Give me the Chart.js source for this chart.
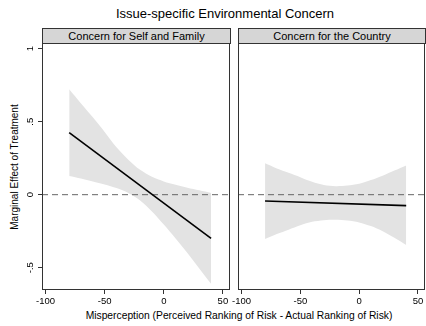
<!DOCTYPE html>
<html>
<head>
<meta charset="utf-8">
<script src="https://cdn.jsdelivr.net/npm/chart.js@4.4.1/dist/chart.umd.min.js"></script>
<style>
  body { margin: 0; background: #fff; }
  #wrap { position: relative; width: 426px; height: 326px; font-family: "Liberation Sans", Arial, sans-serif; color: #000; }
  .txt { position: absolute; white-space: nowrap; }
  .head { position: absolute; top: 28px; height: 14px; background: #d6d6d6; border: 1px solid #333;
          font-size: 11px; line-height: 14px; text-align: center; box-sizing: content-box; }
  canvas { position: absolute; }
</style>
</head>
<body>
<div id="wrap">
  <div class="txt" style="left:0; width:450px; top:6px; font-size:13px; text-align:center;">Issue-specific Environmental Concern</div>
  <div class="head" style="left:42px; width:187px;">Concern for Self and Family</div>
  <div class="head" style="left:238px; width:186px;">Concern for the Country</div>
  <div class="txt" style="left:14px; top:167px; font-size:10px; transform:translate(-50%,-50%) rotate(-90deg);">Marginal Effect of Treatment</div>
  <div class="txt" style="left:0; width:478px; top:310px; font-size:10.3px; text-align:center;">Misperception (Perceived Ranking of Risk - Actual Ranking of Risk)</div>
  <div style="position:absolute; left:0; top:43px; width:232px; height:267px;"><canvas id="left"></canvas></div>
  <div style="position:absolute; left:232px; top:43px; width:194px; height:267px;"><canvas id="right"></canvas></div>
</div>
<script>
// values
const xGrid = [-80, -70, -60, -50, -40, -30, -20, -10, 0, 10, 20, 30, 40];

// left panel: concern for self and family
const selfLineX = [-80, 40];
const selfLineY = [0.425, -0.30];
const selfUpper = [0.722, 0.625, 0.53, 0.43, 0.325, 0.24, 0.17, 0.122, 0.091, 0.068, 0.048, 0.03, 0.012];
const selfLower = [0.128, 0.11, 0.09, 0.07, 0.045, 0.012, -0.04, -0.115, -0.205, -0.30, -0.40, -0.505, -0.61];

// right panel: concern for the country
const countryLineX = [-80, 40];
const countryLineY = [-0.043, -0.075];
const countryUpper = [0.215, 0.18, 0.15, 0.12, 0.088, 0.066, 0.058, 0.062, 0.075, 0.10, 0.13, 0.165, 0.20];
const countryLower = [-0.303, -0.27, -0.24, -0.21, -0.186, -0.175, -0.172, -0.177, -0.19, -0.215, -0.25, -0.295, -0.345];

const xTicks = [-100, -50, 0, 50];
const yTicks = [-0.5, 0, 0.5, 1];
const yTickLabels = ['-.5', '0', '.5', '1'];

const X_MIN = -103, X_MAX = 56;
const Y_MIN = -0.653, Y_MAX = 1.039;

const framePlugin = {
  id: 'frame',
  afterDraw(chart) {
    const a = chart.chartArea, c = chart.ctx;
    c.save();
    c.strokeStyle = '#333';
    c.lineWidth = 1;
    c.strokeRect(a.left + 0.5, a.top + 0.5, a.right - a.left - 1, a.bottom - a.top - 1);
    c.restore();
  }
};

function pts(xs, ys) {
  return xs.map((x, i) => ({ x: x, y: ys[i] }));
}

function makePanel(id, lineX, lineY, upper, lower, showY) {
  const ctx = document.getElementById(id).getContext('2d');
  new Chart(ctx, {
    type: 'line',
    data: {
      datasets: [
        { data: pts(lineX, lineY), borderColor: '#000', borderWidth: 1.6, pointRadius: 0, fill: false },
        { data: pts([X_MIN, X_MAX], [0, 0]), borderColor: '#666', borderWidth: 1, borderDash: [6, 4], pointRadius: 0, fill: false },
        { data: pts(xGrid, upper), borderWidth: 0, borderColor: 'rgba(0,0,0,0)', pointRadius: 0, tension: 0.3,
          fill: '+1', backgroundColor: '#e3e3e3' },
        { data: pts(xGrid, lower), borderWidth: 0, borderColor: 'rgba(0,0,0,0)', pointRadius: 0, tension: 0.3, fill: false }
      ]
    },
    options: {
      responsive: true,
      maintainAspectRatio: false,
      animation: false,
      events: [],
      layout: { padding: { left: 0, right: showY ? 2 : 1, top: 0, bottom: 0 } },
      plugins: { legend: { display: false }, tooltip: { enabled: false } },
      scales: {
        x: {
          type: 'linear',
          min: X_MIN,
          max: X_MAX,
          afterBuildTicks: s => { s.ticks = xTicks.map(v => ({ value: v })); },
          afterFit: s => { s.height = 20; s.paddingLeft = 0; s.paddingRight = 0; },
          grid: { drawOnChartArea: false, tickLength: 4, color: '#333' },
          border: { display: false },
          ticks: {
            color: '#000', padding: 2, maxRotation: 0,
            font: { family: 'Liberation Sans', size: 9.5 },
            callback: v => String(v)
          }
        },
        y: {
          type: 'linear',
          min: Y_MIN,
          max: Y_MAX,
          afterBuildTicks: s => { s.ticks = yTicks.map(v => ({ value: v })); },
          afterFit: s => { s.width = showY ? 42 : 6; s.paddingTop = 0; s.paddingBottom = 0; },
          grid: { drawOnChartArea: false, tickLength: showY ? 4 : 0, color: '#333', display: showY },
          border: { display: false },
          ticks: {
            display: showY,
            color: '#000', padding: 2, minRotation: 90, maxRotation: 90, crossAlign: 'center',
            font: { family: 'Liberation Sans', size: 9.5 },
            callback: v => yTickLabels[yTicks.indexOf(v)]
          }
        }
      }
    },
    plugins: [framePlugin]
  });
}

makePanel('left', selfLineX, selfLineY, selfUpper, selfLower, true);
makePanel('right', countryLineX, countryLineY, countryUpper, countryLower, false);
</script>
</body>
</html>
